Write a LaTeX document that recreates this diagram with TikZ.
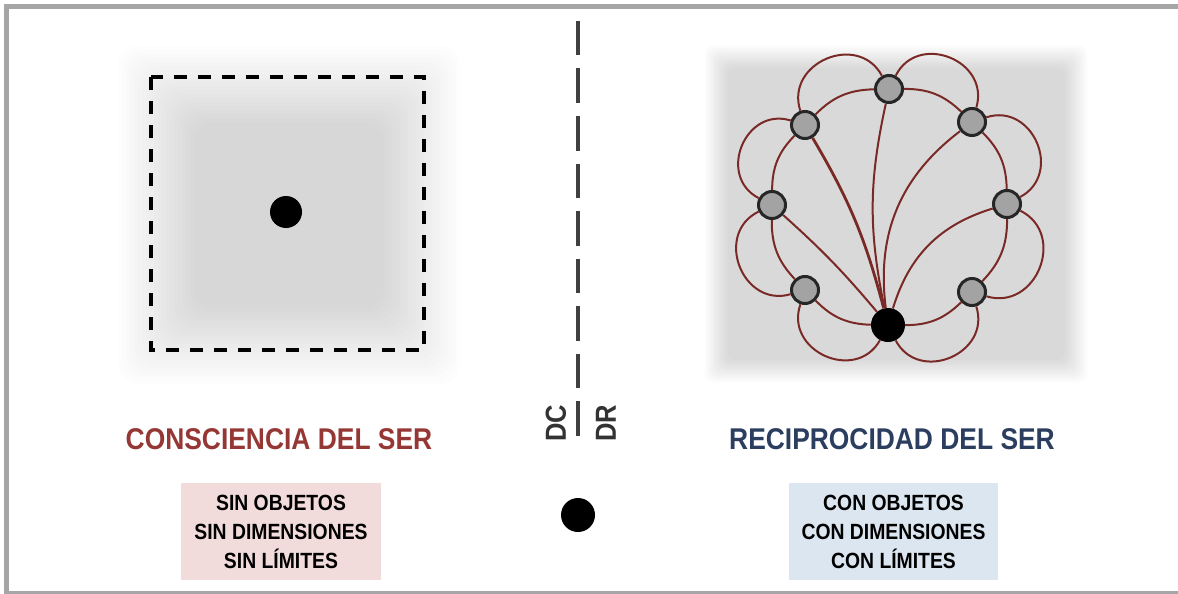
\documentclass[tikz,border=0pt]{standalone}
\usepackage{fontspec}
\setmainfont{Liberation Sans}
\newfontfamily\narrowfont[FakeStretch=0.88]{Liberation Sans}
\newfontfamily\titlefont[FakeStretch=0.88]{Liberation Sans}
\usetikzlibrary{positioning}
\definecolor{framegray}{HTML}{A6A6A6}
\definecolor{serred}{HTML}{953735}
\definecolor{serblue}{HTML}{2C3E60}
\definecolor{pinkbox}{HTML}{F2DCDB}
\definecolor{bluebox}{HTML}{DCE6F1}
\definecolor{linkred}{HTML}{7A2A26}
\definecolor{objgray}{HTML}{A3A3A3}

\begin{document}
\begin{tikzpicture}[x=1pt, y=-1pt,
    title/.style={font=\titlefont\bfseries\fontsize{30}{30}\selectfont},
    infobox/.style={font=\narrowfont\bfseries\fontsize{22}{29}\selectfont, align=center,
      minimum height=97pt, inner sep=0pt},
    dot/.style={circle, fill=black, minimum size=32pt, inner sep=0pt},
    obj/.style={circle, draw=black!85, line width=3pt, fill=objgray, minimum size=27pt, inner sep=0pt},
    link/.style={draw=linkred, line width=2pt},
    side/.style={font=\titlefont\bfseries\fontsize{29}{29}\selectfont, rotate=90, text=black!80}]
    \useasboundingbox (0,0) rectangle (1178,594);
    \clip (0,0) rectangle (1178,594);
    \draw [framegray, line width=5pt] (6.5,6.5) rectangle (1200,593.5);

    % soft gray grounds
    \foreach \i in {0,...,19}
        \fill [black, opacity=0.0075, rounded corners=20pt] (118+4*\i,46+4*\i) rectangle (460-4*\i,384-4*\i);
    \foreach \i in {0,...,9}
        \fill [black, opacity=0.014, rounded corners=8pt] (705+2.5*\i,46+2.5*\i) rectangle (1087-2.5*\i,382-2.5*\i);

    % left: consciencia
    \draw [black, line width=3.5pt, dash pattern=on 13pt off 11pt] (151,77) rectangle (424,350);
    \node [dot] (self) at (286,212) {};
    \node [title, text=serred] (conc) at (279,439) {CONSCIENCIA DEL SER};
    \node [infobox, fill=pinkbox, minimum width=200pt] (sin) at (281,531.5) {SIN OBJETOS\\SIN DIMENSIONES\\SIN LÍMITES};

    % middle
    \draw [black!75, line width=4pt, dash pattern=on 34.5pt off 13pt] (578,21) -- (578,437);
    \node [side] (dc) at (556,423) {DC};
    \node [side] (dr) at (606,423) {DR};
    \node [dot, minimum size=34pt] (mid) at (578,515) {};

    % right: reciprocidad
    \node [dot, minimum size=34pt] (base) at (888,325) {};
    \node [obj] (top) at (889,89) {};
    \node [obj] (ur) at (972,122) {};
    \node [obj] (rgt) at (1007,204) {};
    \node [obj] (lr) at (972,292) {};
    \node [obj] (ll) at (805,290) {};
    \node [obj] (lft) at (772,205) {};
    \node [obj] (ul) at (805,125) {};
    \foreach \a/\b in {rgt/ur, ur/top, top/ul, ul/lft, lft/ll, ll/base, base/lr, lr/rgt} {
        \draw [link] (\a) to [bend right=22] (\b);
        \draw [link] (\a) to [bend right=85, looseness=1.45] (\b);
    }
    \draw [link, line width=2.8pt] (base) to [bend right=8] (ul);
    \draw [link] (base) to [bend left=12] (top);
    \draw [link] (base) to [bend left=30] (ur);
    \draw [link] (base) to [bend left=28] (rgt);
    \draw [link] (base) to [bend right=4] (lft);
    \node [title, text=serblue] (recip) at (892,439) {RECIPROCIDAD DEL SER};
    \node [infobox, fill=bluebox, minimum width=209pt] (con) at (893.5,531.5) {CON OBJETOS\\CON DIMENSIONES\\CON LÍMITES};
\end{tikzpicture}
\end{document}
